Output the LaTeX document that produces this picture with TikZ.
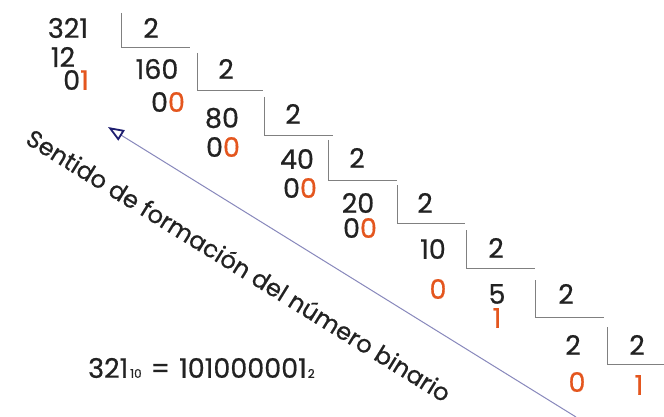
\documentclass[tikz,border=0pt]{standalone}
\usepackage{fontspec}
\setmainfont{Poppins}[FakeBold=0.6]
\usetikzlibrary{arrows.meta}
\definecolor{ink}{HTML}{222222}
\definecolor{rem}{HTML}{E4561E}
\definecolor{rule}{HTML}{808080}
\definecolor{arrowline}{HTML}{8888BC}
\definecolor{arrowhead}{HTML}{1E1E70}
\begin{document}
\begin{tikzpicture}[x=1pt,y=-1pt,
  num/.style={inner sep=0pt, font=\fontsize{27}{29}\selectfont, text=ink},
  bracket/.style={draw=rule, line width=0.8pt},
]
\useasboundingbox (0,0) rectangle (664,417);
\fill[white] (0,0) rectangle (664,417);

% successive divisions by 2
\node[num] (n321) at (68,28) {321};
\node[num] (d1) at (151,28) {2};
\node[num] (r12) at (63,57) {12};
\node[num] (q1) at (76,80) {0\textcolor{rem}{1}};
\node[num] (n160) at (157,69) {160};
\node[num] (d2) at (226,69) {2};
\node[num] (q2) at (168,102) {0\textcolor{rem}{0}};
\node[num] (n80) at (222,118) {80};
\node[num] (d3) at (293,114) {2};
\node[num] (q3) at (223,147) {0\textcolor{rem}{0}};
\node[num] (n40) at (297,159) {40};
\node[num] (d4) at (357,158) {2};
\node[num] (q4) at (300,188) {0\textcolor{rem}{0}};
\node[num] (n20) at (358,203) {20};
\node[num] (d5) at (425,203) {2};
\node[num] (q5) at (360,228) {0\textcolor{rem}{0}};
\node[num] (n10) at (433,249) {10};
\node[num] (d6) at (496,248) {2};
\node[num,text=rem] (q6) at (438,289) {0};
\node[num] (n5) at (497,294) {5};
\node[num] (d7) at (566,294) {2};
\node[num,text=rem] (q7) at (497,318) {1};
\node[num] (n2) at (573,345) {2};
\node[num] (d8) at (637,345) {2};
\node[num,text=rem] (q8) at (577,382) {0};
\node[num,text=rem] (q9) at (639,385) {1};

% division brackets
\draw[bracket] (121,13) -- (121,47) -- (190,47);
\draw[bracket] (197,53) -- (197,90) -- (263,90);
\draw[bracket] (264,97) -- (264,135) -- (333,135);
\draw[bracket] (328,140) -- (328,180) -- (397,180);
\draw[bracket] (397,185) -- (397,223) -- (465,223);
\draw[bracket] (466,230) -- (466,268) -- (535,268);
\draw[bracket] (535,280) -- (535,317) -- (604,317);
\draw[bracket] (607,327) -- (607,364) -- (664,364);

% reading direction
\coordinate (tail) at (576,417);
\coordinate (tip) at (108,127);
\draw[arrowline, line width=1pt,
  -{Triangle[open, length=16pt, width=12pt, line width=1.8pt, color=arrowhead]}]
  (tail) -- (tip);
\node[rotate=-31.8, inner sep=0pt, font=\fontsize{24}{28}\selectfont, text=ink]
  (label) at (239,265) {Sentido de formación del número binario};

% result
\node[num, anchor=west] (eq) at (88,368)
  {321\hspace{2pt}{\fontsize{12}{12}\selectfont 10}\hspace{9pt}=\hspace{9pt}101000001\hspace{1pt}{\fontsize{12}{12}\selectfont 2}};
\end{tikzpicture}
\end{document}
